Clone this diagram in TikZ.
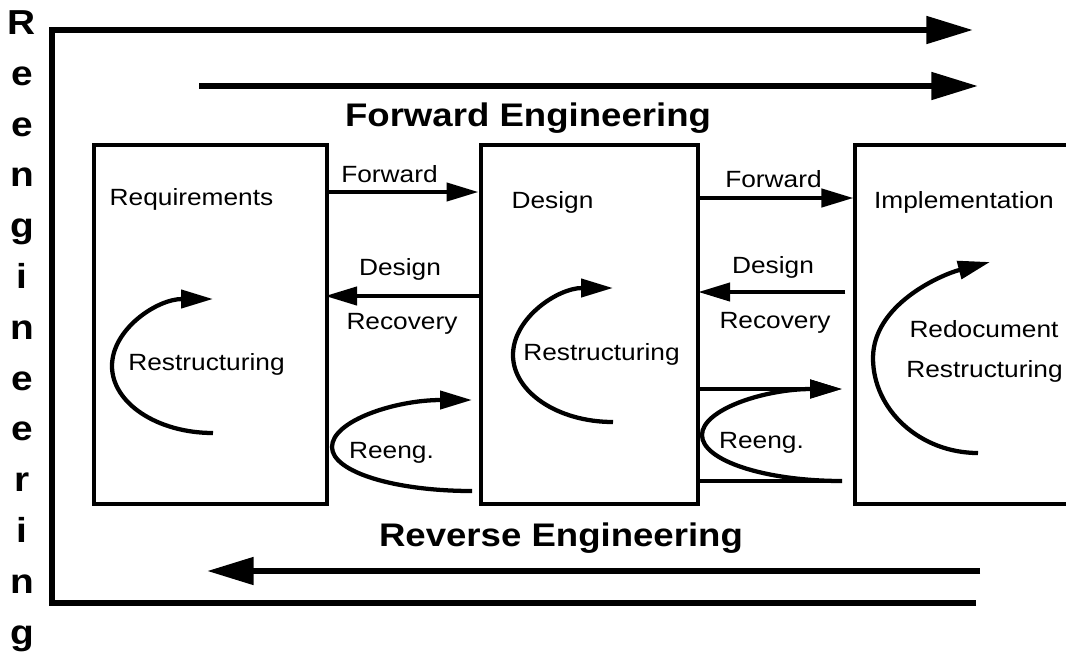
\documentclass[tikz,border=0pt]{standalone}
\usepackage{fontspec}
\setmainfont{Liberation Sans}[FakeStretch=1.12]
\usetikzlibrary{arrows.meta}
\tikzset{
  box/.style={draw, line width=3pt, rectangle, inner sep=0pt, minimum height=269.25pt},
  conn/.style={line width=3.2pt, -{Triangle[length=24pt,width=13.5pt]}},
  plainline/.style={line width=3.2pt},
  bigarrow/.style={line width=4.5pt, line join=miter, -{Triangle[length=35pt,width=20pt]}},
  lbl/.style={anchor=base, inner sep=0pt, font=\fontsize{17.6}{20}\selectfont},
  headline/.style={anchor=base, inner sep=0pt, font=\fontsize{24.5}{28}\selectfont\bfseries},
  vlet/.style={anchor=base, inner sep=0pt, font=\fontsize{26}{30}\selectfont\bfseries}
}
\begin{document}
\begin{tikzpicture}[x=0.75pt, y=-0.75pt]
\useasboundingbox (0,0) rectangle (1066,654);
\clip (0,0) rectangle (1066,654);
\fill[white] (0,0) rectangle (1066,654);

% vertical word
\foreach \ch [count=\i from 0] in {R,e,e,n,g,i,n,e,e,r,i,n,g}
  \node[vlet] (v\i) at (22,{34.5+50.8*\i}) {\ch};

% outer reengineering frame
\coordinate (fr1) at (976,603);
\coordinate (fr2) at (52,603);
\coordinate (fr3) at (52,30);
\coordinate (fr4) at (973,30);
\draw[bigarrow] (fr1) -- (fr2) -- (fr3) -- (fr4);

% forward / reverse engineering arrows
\coordinate (fa1) at (199,86);
\coordinate (fa2) at (978,86);
\draw[bigarrow] (fa1) -- (fa2);
\coordinate (ra1) at (980,571);
\coordinate (ra2) at (207,571);
\draw[bigarrow] (ra1) -- (ra2);

\node[headline] (fwdeng) at (528,126) {Forward Engineering};
\node[headline] (reveng) at (561,546) {Reverse Engineering};

% boxes
\node[box, minimum width=175pt] (req) at (210.35,324.5) {};
\node[box, minimum width=162.75pt] (des) at (589,324.5) {};
\node[box, minimum width=183.4pt] (imp) at (977.75,324.5) {};

\node[lbl] (treq) at (191.5,205) {Requirements};
\node[lbl] (tdes) at (552.5,208) {Design};
\node[lbl] (timp) at (964,208) {Implementation};

% helper heights
\coordinate (h192) at (0,192);
\coordinate (h198) at (0,198);
\coordinate (h296) at (0,296);
\coordinate (h292) at (0,292);
\coordinate (h389) at (0,389);
\coordinate (h481) at (0,481);

% forward connectors
\draw[conn] (req.east |- h192) -- (des.west |- h192);
\node[lbl] (f1) at (389.5,182) {Forward};
\draw[conn] (des.east |- h198) -- (imp.west |- h198);
\node[lbl] (f2) at (773.5,187) {Forward};

% design recovery connectors
\draw[conn] (des.west |- h296) -- ([xshift=-3pt]req.east |- h296);
\node[lbl] (dr1a) at (400,275) {Design};
\node[lbl] (dr1b) at (402,329) {Recovery};
\draw[conn] ([xshift=-6pt]imp.west |- h292) -- ([xshift=-1pt]des.east |- h292);
\node[lbl] (dr2a) at (773,273) {Design};
\node[lbl] (dr2b) at (775,328) {Recovery};

% restructuring loops
\draw[conn] (213,433) .. controls (157.2,433) and (112,403) .. (112,366)
  .. controls (112,329) and (157.2,299) .. (213,299);
\node[lbl] (rs1) at (206.5,370) {Restructuring};

\draw[conn] (613,422) .. controls (557.8,422) and (513,392) .. (513,355)
  .. controls (513,318) and (557.8,288) .. (613,288);
\node[lbl] (rs2) at (601.5,360) {Restructuring};

\draw[conn] (978,453) .. controls (920,453) and (873,410) .. (873,358)
  .. controls (873,305) and (940,275) .. (990,262);
\node[lbl] (rd3) at (984,337) {Redocument};
\node[lbl] (rs3) at (984.5,377) {Restructuring};

% reengineering loops
\draw[conn] (472,491) .. controls (394.7,491) and (332,472) .. (332,447)
  .. controls (332,421) and (394.7,400) .. (472,400);
\node[lbl] (re1) at (391.5,458) {Reeng.};

\coordinate (r2top) at ([xshift=-8.5pt]imp.west |- h389);
\coordinate (r2bot) at ([xshift=-8.5pt]imp.west |- h481);
\draw[conn] (des.east |- h389) -- (r2top);
\draw[plainline] (des.east |- h481) -- (r2bot);
\draw[conn] (r2bot) .. controls +(-77.9,0) and +(0,25.4) .. (702,435)
  .. controls +(0,-25.4) and +(-77.9,0) .. (r2top);
\node[lbl] (re2) at (761.5,448) {Reeng.};
\end{tikzpicture}
\end{document}
